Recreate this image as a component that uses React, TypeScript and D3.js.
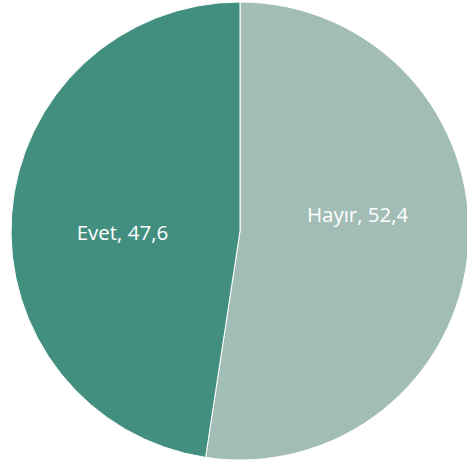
import React from 'react';
import * as d3 from 'd3';

const categories = ['Hayır', 'Evet'];
const values = [52.4, 47.6];
const colors = ['#a2bdb6', '#428f80'];

const width = 467;
const height = 464;
const cx = 240;
const cy = 231;
const radius = 229;

const App: React.FC = () => {
  const data = categories.map((c, i) => ({ name: c, value: values[i], color: colors[i] }));
  const pie = d3.pie<typeof data[number]>().sort(null).value(d => d.value);
  const arcs = pie(data);
  const arc = d3.arc<d3.PieArcDatum<typeof data[number]>>().innerRadius(0).outerRadius(radius);
  // labels sit about half way out, like the Excel default
  const labelArc = d3.arc<d3.PieArcDatum<typeof data[number]>>()
    .innerRadius(radius * 0.515)
    .outerRadius(radius * 0.515);

  return (
    <svg width={width} height={height} style={{ position: 'absolute', left: 0, top: 0 }}>
      <g transform={`translate(${cx},${cy})`}>
        {arcs.map(a => (
          <path key={a.data.name} d={arc(a) || ''} fill={a.data.color} stroke="#ffffff" strokeWidth={1} />
        ))}
        {arcs.map(a => {
          const [x, y] = labelArc.centroid(a);
          return (
            <text
              key={a.data.name + '-l'}
              x={x}
              y={-y - 8}
              textAnchor="middle"
              dominantBaseline="central"
              fill="#ffffff"
              style={{ fontFamily: '"Open Sans", sans-serif', fontSize: 20.5 }}
            >
              {`${a.data.name}, ${a.data.value.toLocaleString('tr-TR')}`}
            </text>
          );
        })}
      </g>
    </svg>
  );
};

export default App;
